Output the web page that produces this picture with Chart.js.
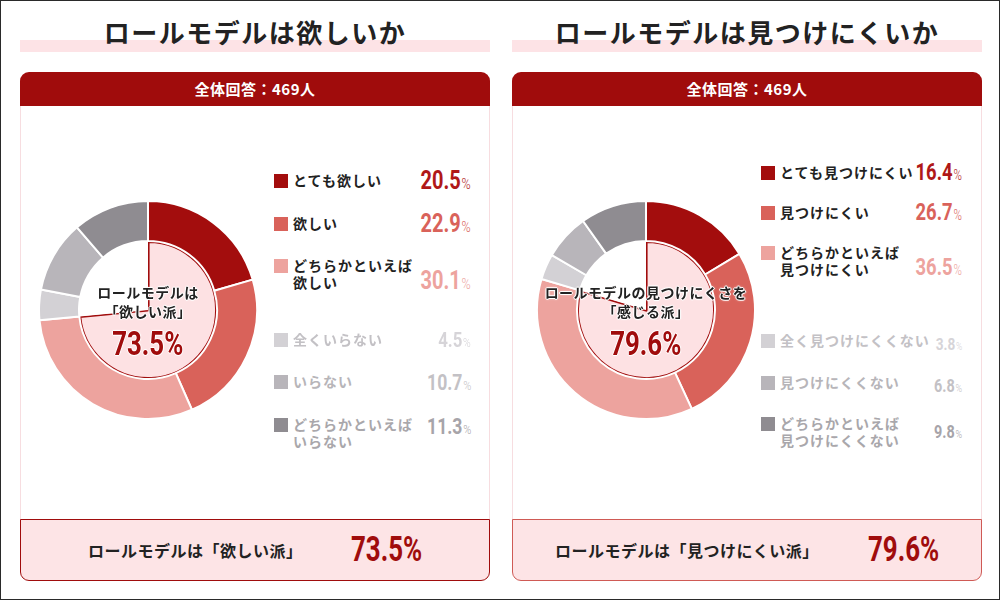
<!DOCTYPE html>
<html lang="ja">
<head>
<meta charset="UTF-8">
<title>ロールモデル調査</title>
<script src="https://cdn.jsdelivr.net/npm/chart.js"></script>
<style>
  html, body { margin: 0; padding: 0; background: #fff; }
  body { width: 1000px; height: 600px; position: relative; overflow: hidden;
         font-family: "Noto Sans CJK JP", "Noto Sans", sans-serif; }
  .frame { position: absolute; left: 0; top: 0; width: 998px; height: 598px; border: 1px solid #2a2a2a; }
  .title { position: absolute; top: 10px; width: 470px; height: 42px; }
  .title .bar { position: absolute; left: 0; right: 0; top: 30px; height: 12px; background: #fde3e6; }
  .title .txt { position: absolute; left: 0; right: 0; top: 4px; text-align: center; font-size: 26px;
                font-weight: 700; letter-spacing: 1.5px; color: #222; line-height: 36px; }
  .panel { position: absolute; top: 72px; width: 468px; height: 446px; border: 1px solid #f7dde0;
           border-radius: 9px 9px 0 0; }
  .head { position: absolute; top: 72px; width: 470px; height: 34px; background: #a00c0c; color: #fff;
          border-radius: 9px 9px 0 0; text-align: center; font-size: 15px; font-weight: 700; line-height: 34px;
          letter-spacing: 0.5px; }
  .foot { position: absolute; top: 519px; width: 468px; height: 60px; background: #fde4e6;
          border-radius: 0 0 9px 9px; }
  .foot .lbl { position: absolute; top: 0; line-height: 60px; font-size: 16px; font-weight: 700; color: #222; letter-spacing: 0.5px; }
  .foot .pct { position: absolute; top: 0; line-height: 60px; font-size: 35px; font-weight: 700;
               font-family: Roboto, sans-serif; color: #a00c0c; transform: scaleX(0.74); transform-origin: left center; }
  canvas { position: absolute; }
  .center { position: absolute; text-align: center; color: #222; font-weight: 700; font-size: 14px; line-height: 19px;
            text-shadow: 1px 0 0 #fff, -1px 0 0 #fff, 0 1px 0 #fff, 0 -1px 0 #fff, 0 0 3px #fff; letter-spacing: 0.5px; }
  .center .big { display: inline-block; margin-top: 4px; font-family: Roboto, sans-serif; font-weight: 700; font-size: 34px;
                 line-height: 36px; color: #a00c0c; transform: scaleX(0.76); letter-spacing: 0; }
  .row { position: absolute; font-size: 14px; font-weight: 700; line-height: 17px; letter-spacing: 1px; white-space: nowrap; }
  .sw { position: absolute; width: 14px; height: 14px; }
  .pc { position: absolute; font-family: Roboto, sans-serif; font-weight: 700; white-space: nowrap;
        transform: scaleX(0.8); transform-origin: right center; text-align: right; }
  .pc small { font-weight: 300; font-size: 0.62em; margin-left: 1px; }
</style>
</head>
<body>
<div class="frame"></div>
<div id="root"></div>

<script>
// ---- data ----
const respondents = 469;

const wantLabels = ['とても欲しい', '欲しい', 'どちらかといえば\n欲しい', '全くいらない', 'いらない', 'どちらかといえば\nいらない'];
const wantValues = [20.5, 22.9, 30.1, 4.5, 10.7, 11.3];
const wantYes = 73.5;

const hardLabels = ['とても見つけにくい', '見つけにくい', 'どちらかといえば\n見つけにくい', '全く見つけにくくない', '見つけにくくない', 'どちらかといえば\n見つけにくくない'];
const hardValues = [16.4, 26.7, 36.5, 3.8, 6.8, 9.8];
const hardYes = 79.6;

const segColors = ['#a30d0d', '#d9625a', '#eda39e', '#d3d1d5', '#b8b5ba', '#8f8c91'];
const labelColors = ['#222', '#222', '#222', '#c3c1c5', '#b7b5b9', '#a9a7ab'];
const pctColors = ['#b01818', '#d9625a', '#eda39e', '#d6d4d8', '#c3c1c5', '#a7a4a9'];

// layout per panel (positions only)
const panels = [
  {
    x: 20, title: 'ロールモデルは欲しいか', labels: wantLabels, values: wantValues, yes: wantYes,
    centerTop: 'ロールモデルは', centerMid: '「欲しい派」', footLabel: 'ロールモデルは「欲しい派」',
    chart: { x: 38, y: 200, size: 220 }, footLblX: 67, footPctX: 330, footBorder: '#a00c0c',
    swX: 254, lblX: 273, pctRight: 451,
    lineY: [181, 224, 266, 340, 382, 425], pctY: [181, 224, 281, 341, 383, 427],
    pctSize: [25, 25, 25, 21, 22, 22]
  },
  {
    x: 512, title: 'ロールモデルは見つけにくいか', labels: hardLabels, values: hardValues, yes: hardYes,
    centerTop: 'ロールモデルの見つけにくさを', centerMid: '「感じる派」', footLabel: 'ロールモデルは「見つけにくい派」',
    chart: { x: 536, y: 200, size: 220 }, footLblX: 42, footPctX: 355, footBorder: '#cf5a55',
    swX: 249, lblX: 268, pctRight: 450,
    lineY: [173, 213, 253, 341, 383, 424], pctY: [173, 213, 268, 344, 386, 432],
    pctSize: [23, 23, 23, 17, 18, 18]
  }
];

const root = document.getElementById('root');

function el(cls, css, html) {
  const d = document.createElement('div');
  if (cls) d.className = cls;
  Object.assign(d.style, css);
  if (html !== undefined) d.innerHTML = html;
  root.appendChild(d);
  return d;
}

panels.forEach(p => {
  const t = el('title', { left: p.x + 'px' });
  t.innerHTML = '<div class="bar"></div><div class="txt">' + p.title + '</div>';

  el('panel', { left: p.x + 'px' });
  el('head', { left: p.x + 'px' }, '全体回答：' + respondents + '人');

  const f = el('foot', { left: p.x + 'px', border: '1px solid ' + p.footBorder });
  f.innerHTML = '<div class="lbl" style="left:' + p.footLblX + 'px">' + p.footLabel + '</div>' +
                '<div class="pct" style="left:' + p.footPctX + 'px">' + p.yes.toFixed(1) + '%</div>';

  // doughnut: outer ring = answers, inner pie = share of "yes" side
  const cv = document.createElement('canvas');
  cv.width = p.chart.size; cv.height = p.chart.size;
  cv.style.left = p.chart.x + 'px'; cv.style.top = p.chart.y + 'px';
  root.appendChild(cv);

  new Chart(cv.getContext('2d'), {
    type: 'doughnut',
    data: {
      labels: p.labels,
      datasets: [
        {
          data: p.values,
          backgroundColor: segColors,
          borderColor: '#ffffff',
          borderWidth: 2,
          weight: 40
        },
        {
          data: [p.yes, +(100 - p.yes).toFixed(1)],
          backgroundColor: ['#fde1e3', '#ffffff'],
          borderColor: ['#a00c0c', '#ffffff'],
          borderWidth: [1.6, 0],
          borderAlign: 'inner',
          weight: 69
        }
      ]
    },
    options: {
      responsive: false,
      animation: false,
      cutout: 0,
      layout: { padding: 0 },
      plugins: { legend: { display: false }, tooltip: { enabled: false } }
    }
  });

  // center text
  const cx = p.chart.x + p.chart.size / 2;
  el('center', { left: (cx - 110) + 'px', width: '220px', top: '283px' },
     p.centerTop + '<br>' + p.centerMid + '<br><span class="big">' + p.yes.toFixed(1) + '%</span>');

  // legend
  p.labels.forEach((lab, i) => {
    el('sw', { left: (p.x + p.swX) + 'px', top: (p.lineY[i] - 7) + 'px', background: segColors[i] });
    el('row', { left: (p.x + p.lblX) + 'px', top: (p.lineY[i] - 9) + 'px', color: labelColors[i] },
       lab.replace('\n', '<br>'));
    const sz = p.pctSize[i];
    el('pc', { right: (1000 - p.x - p.pctRight) + 'px', top: (p.pctY[i] - sz * 0.6) + 'px',
               fontSize: sz + 'px', lineHeight: (sz * 1.2) + 'px', color: pctColors[i] },
       p.values[i].toFixed(1) + '<small>%</small>');
  });
});
</script>
</body>
</html>
